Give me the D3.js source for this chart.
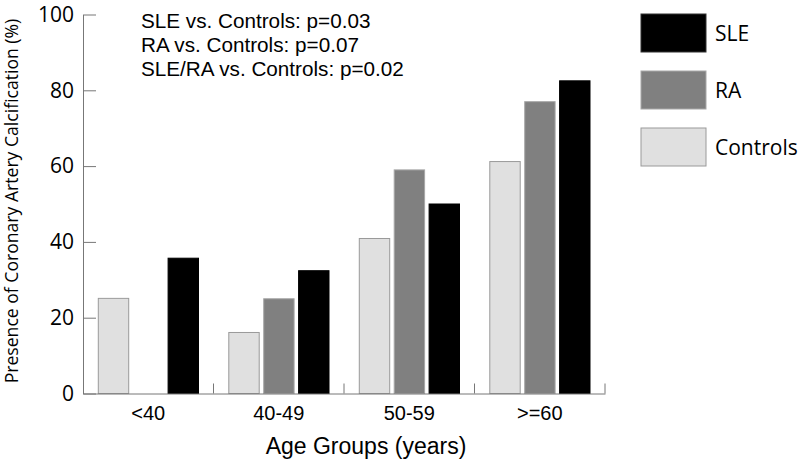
<!DOCTYPE html>
<html><head><meta charset="utf-8">
<script src="https://cdn.jsdelivr.net/npm/d3@7"></script>
<style>body{margin:0;background:#fff}</style>
</head><body>
<svg id="c" width="800" height="460"></svg>
<script>
const categories = ["<40", "40-49", "50-59", ">=60"];
const seriesNames = ["Controls", "RA", "SLE"];
const controls = [25.1, 16.1, 40.9, 61.2];
const ra = [0, 25.0, 59.0, 77.0];
const sle = [35.7, 32.4, 50.0, 82.5];
const yTicks = [0, 20, 40, 60, 80, 100];
const legendOrder = ["SLE", "RA", "Controls"];
const annotations = ["SLE vs. Controls: p=0.03", "RA vs. Controls: p=0.07", "SLE/RA vs. Controls: p=0.02"];

const values = {Controls: controls, RA: ra, SLE: sle};
const fills = {Controls: "#e0e0e0", RA: "#808080", SLE: "#000000"};
const strokes = {Controls: "#9a9a9a", RA: "#a8a8a8", SLE: "#000000"};

const svg = d3.select("#c");
const mLeft = 83, mRight = 605, mTop = 14.5, mBottom = 393.5;

const x = d3.scaleBand().domain(categories).range([mLeft, mRight]).padding(0);
const x1 = d3.scaleBand().domain(seriesNames).range([14.8, x.bandwidth() - 14.5]).paddingInner(0.1).paddingOuter(0);
const y = d3.scaleLinear().domain([0, 100]).range([mBottom, mTop]);

// bars
const g = svg.append("g");
categories.forEach((c, i) => {
  seriesNames.forEach(s => {
    const v = values[s][i];
    if (v <= 0) return;
    g.append("rect")
      .attr("x", x(c) + x1(s) + 0.5)
      .attr("y", y(v))
      .attr("width", x1.bandwidth() - 1)
      .attr("height", y(0) - y(v))
      .attr("fill", fills[s])
      .attr("stroke", strokes[s])
      .attr("stroke-width", 1);
  });
});

// y axis
const yAxis = svg.append("g").attr("transform", `translate(${mLeft},0)`)
  .call(d3.axisLeft(y).tickValues(yTicks).tickSizeInner(-13).tickSizeOuter(0).tickPadding(9));
yAxis.select(".domain").attr("stroke", "#777");
yAxis.selectAll(".tick line").attr("stroke", "#777");
yAxis.selectAll(".tick text").attr("font-family", "Open Sans").attr("font-size", 21).attr("fill", "#000");

// x axis
const xAxis = svg.append("g").attr("transform", `translate(0,${mBottom})`)
  .call(d3.axisBottom(x).tickSize(0).tickPadding(8));
xAxis.select(".domain").attr("stroke", "#777");
xAxis.selectAll(".tick text").attr("font-family", "Liberation Sans").attr("font-size", 20).attr("fill", "#000").attr("dy", "0.93em");
svg.append("g").selectAll("line").data(categories).join("line")
  .attr("x1", d => x(d) + x.bandwidth()).attr("x2", d => x(d) + x.bandwidth())
  .attr("y1", mBottom).attr("y2", mBottom - 10)
  .attr("stroke", "#777");

// axis titles
svg.append("text").attr("x", 366).attr("y", 454).attr("text-anchor", "middle")
  .attr("font-family", "Liberation Sans").attr("font-size", 23).text("Age Groups (years)");
svg.append("text").attr("transform", "translate(18,201) rotate(-90)").attr("text-anchor", "middle")
  .attr("font-family", "Open Sans").attr("font-size", 17.6).text("Presence of Coronary Artery Calcification (%)");

// annotations
svg.append("g").selectAll("text").data(annotations).join("text")
  .attr("x", 141).attr("y", (d, i) => 28 + i * 24.2)
  .attr("font-family", "Liberation Sans").attr("font-size", 20.7).text(d => d);

// legend
const lg = svg.append("g");
legendOrder.forEach((s, i) => {
  const yy = 14 + i * 57;
  lg.append("rect").attr("x", 641).attr("y", yy).attr("width", 65).attr("height", 38)
    .attr("fill", fills[s]).attr("stroke", s === "SLE" ? "#333" : strokes[s]);
  lg.append("text").attr("x", 715).attr("y", yy + 19).attr("dy", "0.36em")
    .attr("font-family", "Open Sans").attr("font-size", 21).text(s);
});
</script>
</body></html>
